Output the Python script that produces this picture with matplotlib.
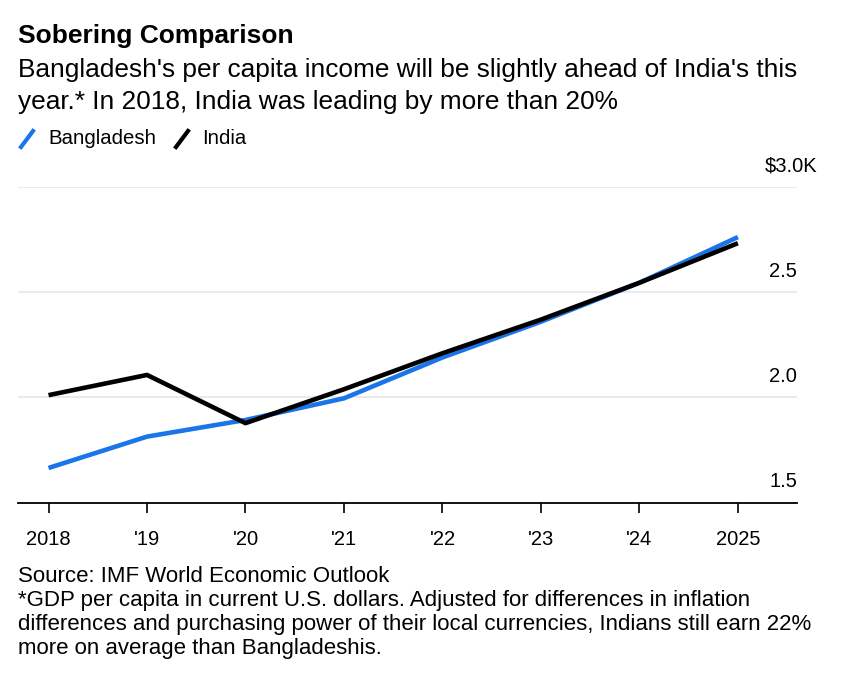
import matplotlib
matplotlib.use("Agg")
import matplotlib.pyplot as plt
from matplotlib.lines import Line2D

plt.rcParams['font.family'] = ['Liberation Sans', 'DejaVu Sans']

# data (GDP per capita, $ thousands)
years = [2018, 2019, 2020, 2021, 2022, 2023, 2024, 2025]
year_labels = ['2018', "'19", "'20", "'21", "'22", "'23", "'24", '2025']
bangladesh = [1.665, 1.814, 1.893, 1.996, 2.19, 2.36, 2.545, 2.762]
india = [2.011, 2.107, 1.878, 2.039, 2.21, 2.37, 2.545, 2.733]
y_ticks = [1.5, 2.0, 2.5, 3.0]
y_labels = ['1.5', '2.0', '2.5', '$3.0K']

BLUE = '#1a75e8'
W, H = 841, 686

fig = plt.figure(figsize=(W / 100, H / 100), dpi=100)
# axes box in pixels: left 18, right 797, top 187, bottom 502.7
ax = fig.add_axes([18 / W, 1 - 502.7 / H, (797 - 18) / W, (502.7 - 187) / H])

ax.plot(years, bangladesh, color=BLUE, lw=3.3, solid_capstyle='butt', zorder=3)
ax.plot(years, india, color='black', lw=3.3, solid_capstyle='butt', zorder=4)

ax.set_xlim(2017.69, 2025.6)
ax.set_ylim(1.5, 3.0)

for t in y_ticks[1:]:
    ax.axhline(t, color='#e6e6e6', lw=1.2, zorder=1)

for s in ['top', 'right', 'left']:
    ax.spines[s].set_visible(False)
ax.spines['bottom'].set_linewidth(1.3)
ax.spines['bottom'].set_color('black')

ax.set_xticks(years)
ax.set_xticklabels(year_labels, fontsize=14.5)
ax.tick_params(axis='x', length=7, width=1.2, pad=13, color='black')
ax.set_yticks([])

# y labels sit above their gridlines at the right edge
for t, lab in zip(y_ticks, y_labels):
    dx = 20 if lab.endswith('K') else 0
    ax.annotate(lab, xy=(1, t), xycoords=('axes fraction', 'data'),
                xytext=(dx, 21), textcoords='offset pixels',
                ha='right', va='center', fontsize=14.5)

# titles
fig.text(18 / W, 1 - 36 / H, 'Sobering Comparison', fontsize=19, fontweight='bold',
         va='center', ha='left')
fig.text(18 / W, 1 - 70 / H, "Bangladesh's per capita income will be slightly ahead of India's this",
         fontsize=18.9, va='center', ha='left')
fig.text(18 / W, 1 - 102 / H, "year.* In 2018, India was leading by more than 20%",
         fontsize=18.9, va='center', ha='left')

# legend
for x0, col, lab, tx in [(21, BLUE, 'Bangladesh', 48), (176, 'black', 'India', 202)]:
    fig.add_artist(Line2D([x0 / W, (x0 + 12) / W], [1 - 147 / H, 1 - 131 / H],
                          color=col, lw=3, transform=fig.transFigure))
    fig.text(tx / W, 1 - 139 / H, lab, fontsize=14.7, va='center', ha='left')

# footer
notes = ["Source: IMF World Economic Outlook",
         "*GDP per capita in current U.S. dollars. Adjusted for differences in inflation",
         "differences and purchasing power of their local currencies, Indians still earn 22%",
         "more on average than Bangladeshis."]
for i, line in enumerate(notes):
    fig.text(18 / W, 1 - (576 + i * 24.3) / H, line, fontsize=16, va='center', ha='left')

fig.savefig('out.png', dpi=100, facecolor='white')
